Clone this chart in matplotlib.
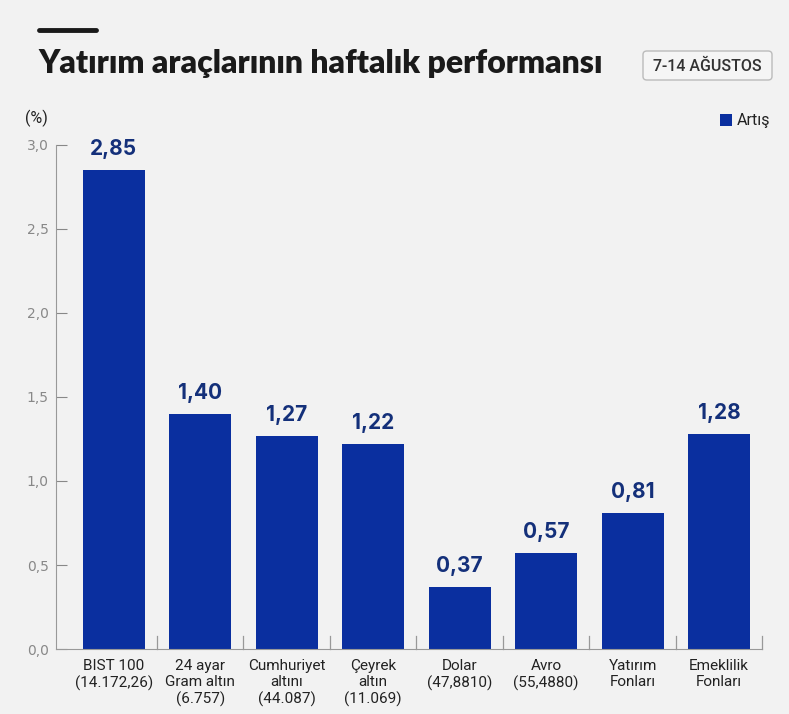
import matplotlib.pyplot as plt
from matplotlib.patches import FancyBboxPatch, Rectangle
from matplotlib.lines import Line2D

# data
categories = ['BIST 100\n(14.172,26)', '24 ayar\nGram altın\n(6.757)', 'Cumhuriyet\naltını\n(44.087)',
              'Çeyrek\naltın\n(11.069)', 'Dolar\n(47,8810)', 'Avro\n(55,4880)',
              'Yatırım\nFonları', 'Emeklilik\nFonları']
values = [2.85, 1.40, 1.27, 1.22, 0.37, 0.57, 0.81, 1.28]
value_labels = ['2,85', '1,40', '1,27', '1,22', '0,37', '0,57', '0,81', '1,28']
yticks = [0.0, 0.5, 1.0, 1.5, 2.0, 2.5, 3.0]
ytick_labels = ['0,0', '0,5', '1,0', '1,5', '2,0', '2,5', '3,0']

bg = '#f2f2f2'
bar_color = '#0a2f9f'
label_color = '#14307a'

fig = plt.figure(figsize=(7.89, 7.14), dpi=100, facecolor=bg)
ax = fig.add_axes([0.0706, 0.091, 0.8957, 0.706])
ax.set_facecolor(bg)

x = list(range(len(values)))
ax.bar(x, values, width=0.72, color=bar_color, zorder=2)
for xi, v, lab in zip(x, values, value_labels):
    ax.annotate(lab, (xi, v), xytext=(0, 8), textcoords='offset points',
                ha='center', va='bottom', fontsize=15, fontweight='bold',
                color=label_color, family='Inter')

ax.set_xlim(-0.67, 7.5)
ax.set_ylim(0, 3.0)
ax.set_yticks(yticks)
ax.set_yticklabels(ytick_labels)
ax.tick_params(axis='y', direction='in', length=8, color='#888888', labelcolor='#888888',
               labelsize=10, pad=5)
ax.set_xticks(x)
ax.set_xticklabels(categories, fontsize=11, color='#222222', family='Roboto', linespacing=1.22)
ax.tick_params(axis='x', length=0, pad=7)

for s in ['top', 'right']:
    ax.spines[s].set_visible(False)
ax.spines['left'].set_color('#999999')
ax.spines['bottom'].set_color('#999999')

# small separators between categories
for k in range(len(values)):
    ax.plot([k + 0.5, k + 0.5], [0, 0.075], color='#999999', lw=0.9, clip_on=False)

# header
fig.add_artist(Line2D([39 / 789, 96 / 789], [1 - 30 / 714, 1 - 30 / 714], color='#1a1a1a',
                      lw=3.5, solid_capstyle='round'))
fig.text(38 / 789, 1 - 63 / 714, 'Yatırım araçlarının haftalık performansı', fontsize=23,
         fontweight='heavy', family='Lato', color='#1a1a1a', va='center', ha='left')
box = FancyBboxPatch((643 / 789, 1 - 80 / 714), 129 / 789, 29 / 714,
                     boxstyle='round,pad=0,rounding_size=0.005', transform=fig.transFigure,
                     facecolor='#f5f5f5', edgecolor='#bbbbbb', lw=1)
fig.add_artist(box)
fig.text(707.5 / 789, 1 - 66 / 714, '7-14 AĞUSTOS', fontsize=11.5, fontweight='medium',
         family='Roboto', color='#333333', ha='center', va='center')

fig.text(25 / 789, 1 - 118 / 714, '(%)', fontsize=11.5, family='Roboto', color='#222222',
         va='center', ha='left')
fig.add_artist(Rectangle((720 / 789, 1 - 126 / 714), 12 / 789, 12 / 714,
                         transform=fig.transFigure, facecolor=bar_color, edgecolor='none'))
fig.text(737 / 789, 1 - 120 / 714, 'Artış', fontsize=11.5, family='Roboto', color='#222222',
         va='center', ha='left')

fig.savefig('out.png', dpi=100, facecolor=bg)
